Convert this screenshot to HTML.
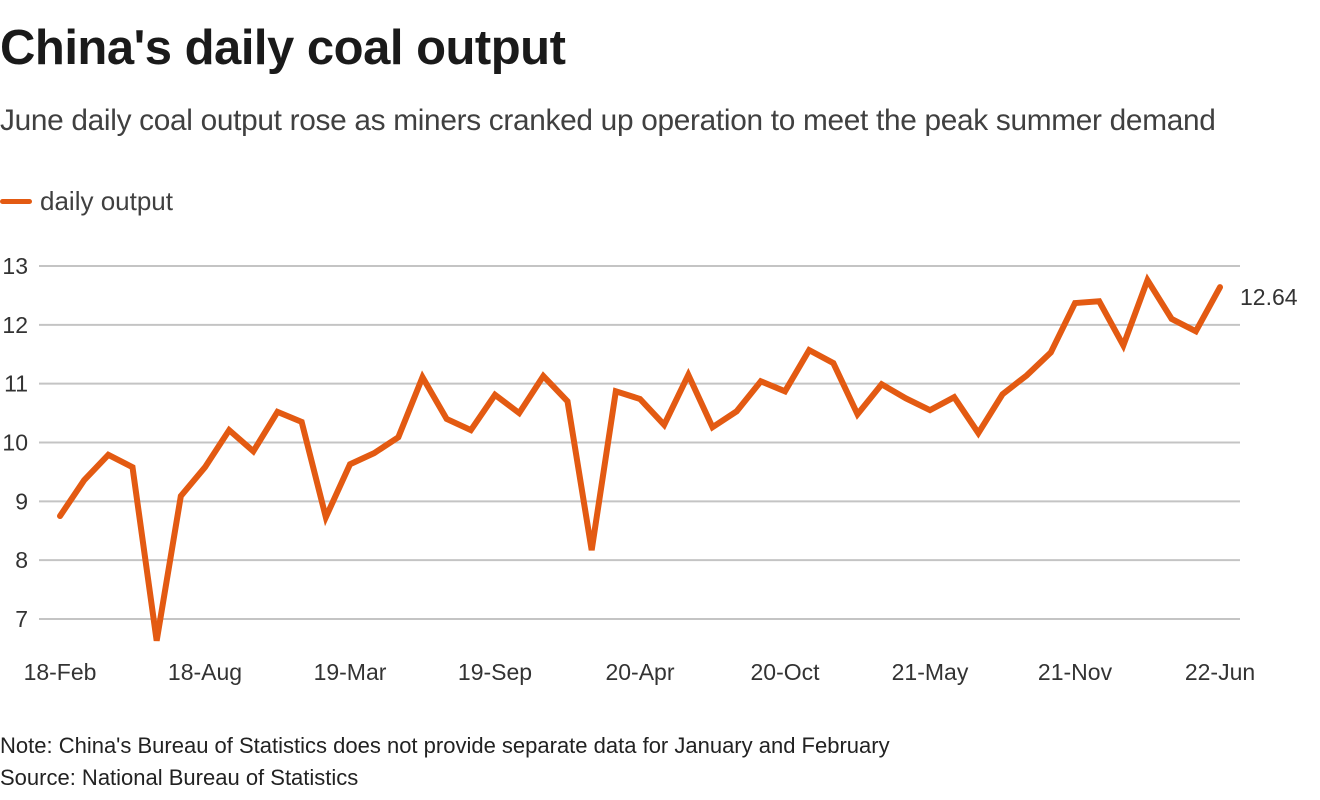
<!DOCTYPE html>
<html><head><meta charset="utf-8"><style>
body{margin:0;width:1320px;height:800px;background:#fff;font-family:"Liberation Sans",sans-serif;overflow:hidden;position:relative;color:#222}
.t{position:absolute;white-space:nowrap}
</style></head><body>
<div class="t" style="left:0;top:20px;font-size:49px;font-weight:bold;color:#1a1a1a;letter-spacing:-0.5px">China's daily coal output</div>
<div class="t" style="left:0;top:104px;font-size:29.8px;color:#404040;letter-spacing:-0.3px">June daily coal output rose as miners cranked up operation to meet the peak summer demand</div>
<div style="position:absolute;left:0;top:186px;height:30px">
<div style="position:absolute;left:0;top:13px;width:32px;height:5px;background:#e35a12;border-radius:3px"></div>
<div class="t" style="left:40px;top:0;font-size:26px;color:#404040">daily&nbsp;output</div></div>
<svg id="chart" width="1320" height="800" style="position:absolute;left:0;top:0"></svg>
<div class="t" style="left:0;top:733px;font-size:22px;color:#222">Note: China's Bureau of Statistics does not provide separate data for January and February</div>
<div class="t" style="left:0;top:765px;font-size:22px;color:#222">Source: National Bureau of Statistics</div>
<script>
const values=[8.75,9.36,9.79,9.58,6.63,9.09,9.58,10.21,9.85,10.52,10.35,8.73,9.63,9.82,10.09,11.11,10.40,10.21,10.81,10.50,11.13,10.70,8.17,10.87,10.74,10.30,11.15,10.26,10.53,11.04,10.87,11.57,11.35,10.48,10.99,10.75,10.55,10.77,10.16,10.82,11.14,11.53,12.37,12.40,11.65,12.76,12.10,11.89,12.64];
const yTicks=[7,8,9,10,11,12,13];
const xLabels=["18-Feb","18-Aug","19-Mar","19-Sep","20-Apr","20-Oct","21-May","21-Nov","22-Jun"];
const xLabelIdx=[0,6,12,18,24,30,36,42,48];
const lastLabel="12.64";
const NS="http://www.w3.org/2000/svg";
const svg=document.getElementById('chart');
const x=i=>60+i*(1220-60)/(values.length-1);
const y=v=>266+(13-v)*(619-266)/6;
function mk(t,a){const e=document.createElementNS(NS,t);for(const k in a)e.setAttribute(k,a[k]);svg.appendChild(e);return e;}
yTicks.forEach(v=>{
 const l=mk('line',{x1:39,x2:1240,y1:y(v),y2:y(v),stroke:'#c4c4c4','stroke-width':2});
 
 
 const t=mk('text',{x:28,y:y(v)+8,'text-anchor':'end','font-size':23,fill:'#333','font-family':'Liberation Sans, sans-serif'});
 t.textContent=v;
 
 
});
xLabels.forEach((s,k)=>{
 const t=mk('text',{x:x(xLabelIdx[k]),y:680,'text-anchor':'middle','font-size':23,fill:'#333','font-family':'Liberation Sans, sans-serif'});
 t.textContent=s;
 
 
});
const p=mk('polyline',{points:values.map((v,i)=>x(i)+','+y(v)).join(' '),fill:'none',stroke:'#e35a12','stroke-width':6,'stroke-linejoin':'miter','stroke-linecap':'round'});


const lv=mk('text',{x:1240,y:y(values[values.length-1])+18,'font-size':23,fill:'#333','font-family':'Liberation Sans, sans-serif'});
lv.textContent=lastLabel;


</script>
</body></html>
